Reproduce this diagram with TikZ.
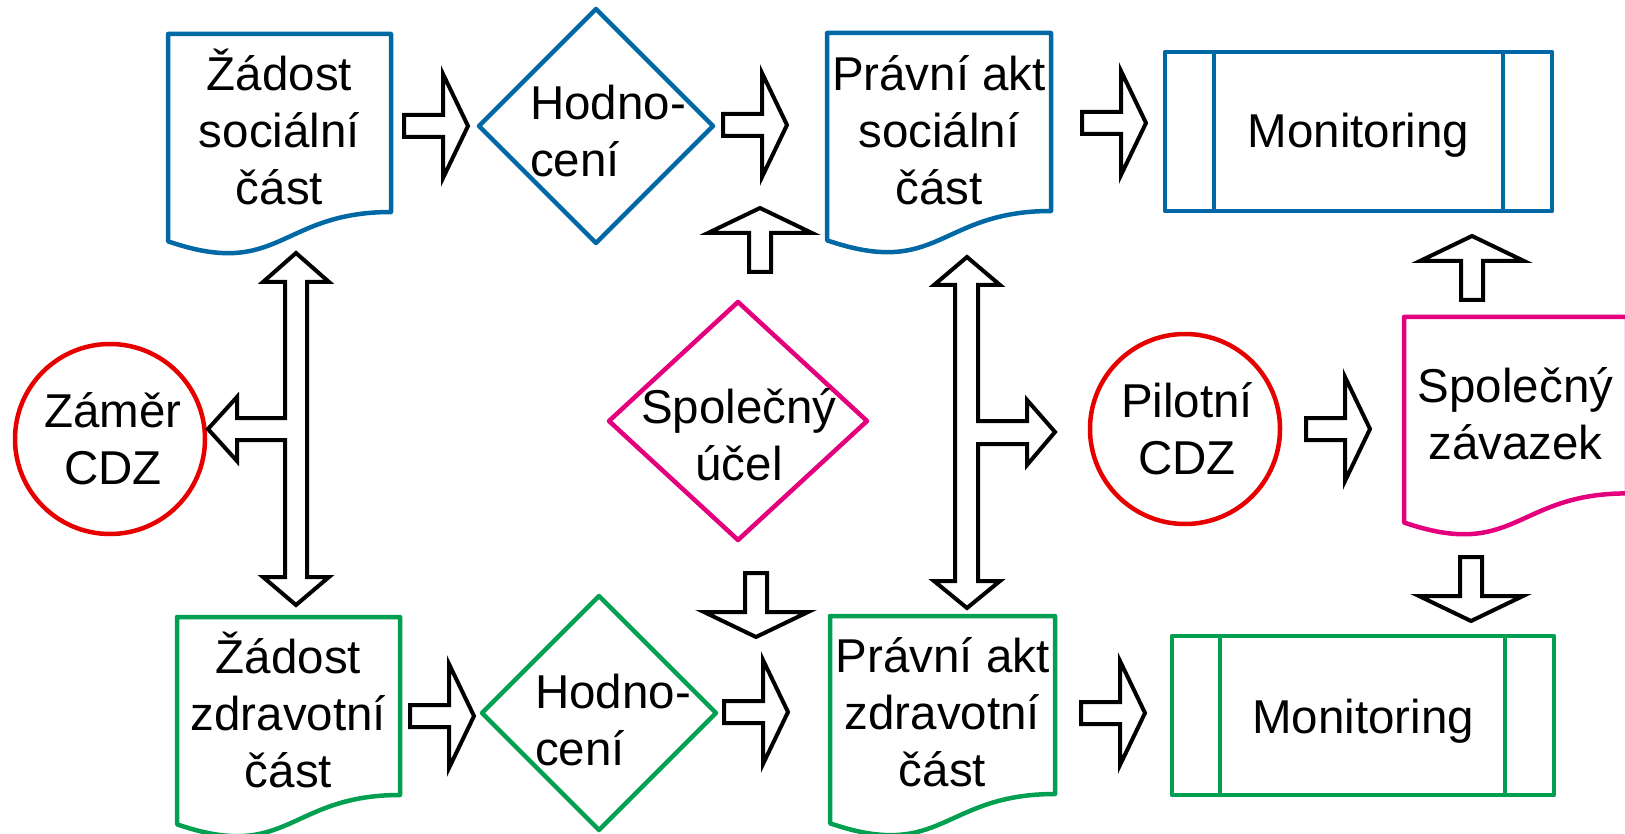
\documentclass[tikz,border=0pt]{standalone}
\usepackage{fontspec}
\setmainfont{Liberation Sans}
\definecolor{cblue}{RGB}{0,104,165}
\definecolor{cgreen}{RGB}{0,160,80}
\definecolor{cred}{RGB}{230,0,0}
\definecolor{cpink}{RGB}{228,0,125}
\newcommand\tstr{\rule[-11pt]{0pt}{56pt}}
\tikzset{
  lbl/.style={inner sep=0pt, font=\fontsize{47.5}{57}\selectfont, align=center},
  outl/.style={line width=4.5pt, line join=round},
  barrow/.style={draw=black, line width=4pt, fill=white, line join=miter},
  blockarr/.pic={\draw[barrow] (0,-11) -- (39,-11) -- (39,-52) -- (64,0) -- (39,52) -- (39,11) -- (0,11) -- cycle;}
}
\begin{document}
\begin{tikzpicture}[x=1pt,y=-1pt]
\useasboundingbox (0,0) rectangle (1625,834);
\fill[white] (0,0) rectangle (1625,834);

% documents
\draw[outl,cblue] (168,34) -- (391,34) -- (391,212) .. controls (279.5,212) and (279.5,279.9) .. (168,241.3) -- cycle;
\draw[outl,cblue] (827,33) -- (1051,33) -- (1051,211) .. controls (939,211) and (939,278.9) .. (827,240.3) -- cycle;
\draw[outl,cgreen] (177,617) -- (400,617) -- (400,795) .. controls (288.5,795) and (288.5,862.9) .. (177,824.3) -- cycle;
\draw[outl,cgreen] (830,616) -- (1055,616) -- (1055,794) .. controls (942.5,794) and (942.5,861.9) .. (830,823.3) -- cycle;
\draw[outl,cpink] (1404,317) -- (1627,317) -- (1627,493.4) .. controls (1515.5,493.4) and (1515.5,560.7) .. (1404,522.5) -- cycle;

% diamonds
\draw[outl,cblue] (596,9) -- (713,126) -- (596,243) -- (479,126) -- cycle;
\draw[outl,cgreen] (599,596) -- (716,713) -- (599,830) -- (482,713) -- cycle;
\draw[outl,cpink] (738,302) -- (867,421) -- (738,540) -- (609,421) -- cycle;

% circles
\draw[outl,cred] (110,439) circle[radius=95];
\draw[outl,cred] (1185,429) circle[radius=95];

% monitoring boxes
\draw[outl,cblue] (1165,52) rectangle (1552,211);
\draw[outl,cblue] (1214,52) -- (1214,211) (1503,52) -- (1503,211);
\draw[outl,cgreen] (1172,636) rectangle (1554,795);
\draw[outl,cgreen] (1220,636) -- (1220,795) (1505,636) -- (1505,795);

% texts
\node[lbl] (zs) at (279.5,131) {\tstr Žádost\\\tstr sociální\\\tstr část};
\node[lbl] (ps) at (939,131) {\tstr Právní akt\\\tstr sociální\\\tstr část};
\node[lbl] (zz) at (288.5,713) {\tstr Žádost\\\tstr zdravotní\\\tstr část};
\node[lbl] (pz) at (942.5,712) {\tstr Právní akt\\\tstr zdravotní\\\tstr část};
\node[lbl] (sz) at (1515.5,413.5) {\tstr Společný\\\tstr závazek};
\node[lbl,align=left,anchor=west] (h1) at (530,131.5) {\tstr Hodno-\\\tstr cení};
\node[lbl,align=left,anchor=west] (h2) at (535,719.5) {\tstr Hodno-\\\tstr cení};
\node[lbl] (su) at (739,434.5) {\tstr Společný\\\tstr účel};
\node[lbl] (zm) at (113,438.5) {\tstr Záměr\\\tstr CDZ};
\node[lbl] (pc) at (1187,428.5) {\tstr Pilotní\\\tstr CDZ};
\node[lbl] (m1) at (1358.5,131) {\tstr Monitoring};
\node[lbl] (m2) at (1363,716) {\tstr Monitoring};

% horizontal block arrows
\pic at (404,126) {blockarr};
\pic at (723,125) {blockarr};
\pic at (1082,123) {blockarr};
\pic at (410,716) {blockarr};
\pic at (724,712) {blockarr};
\pic at (1081,713) {blockarr};
\pic at (1306,429) {blockarr};
% vertical block arrows
\pic[rotate=90] at (760,272) {blockarr};
\pic[rotate=-90] at (756,573) {blockarr};
\pic[rotate=90] at (1472,300) {blockarr};
\pic[rotate=-90] at (1471,557) {blockarr};

% T-shaped arrows
\draw[barrow] (296,253) -- (329,282) -- (307,282) -- (307,577) -- (329,577) -- (296,605) -- (263,577) -- (285,577) -- (285,440) -- (237,440) -- (237,461) -- (208,429) -- (237,397) -- (237,418) -- (285,418) -- (285,282) -- (263,282) -- cycle;
\draw[barrow] (967,257) -- (1000,285) -- (978,285) -- (978,421) -- (1027,421) -- (1027,400) -- (1055,432) -- (1027,465) -- (1027,444) -- (978,444) -- (978,581) -- (1000,581) -- (967,608) -- (934,581) -- (955,581) -- (955,285) -- (934,285) -- cycle;
\end{tikzpicture}
\end{document}
